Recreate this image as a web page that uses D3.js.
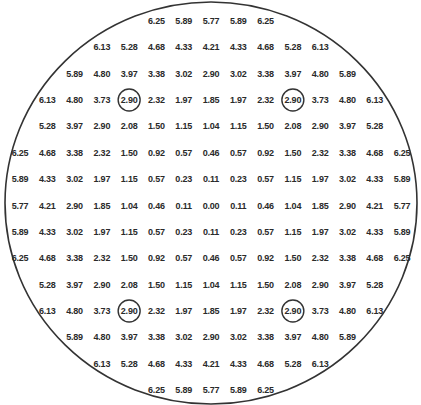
<!DOCTYPE html>
<html>
<head>
<meta charset="utf-8">
<script src="https://cdn.jsdelivr.net/npm/d3@7"></script>
<style>
  html, body { margin: 0; padding: 0; background: #fff; }
  svg { display: block; }
</style>
</head>
<body>
<svg id="chart" width="421" height="405"></svg>
<script>
// Grid rows, top to bottom (row index -7 .. 7)
const rowIndex = [-7, -6, -5, -4, -3, -2, -1, 0, 1, 2, 3, 4, 5, 6, 7];
// First column of each row (rows are centred on column 0)
const rowStartCol = [-2, -4, -5, -6, -6, -7, -7, -7, -7, -7, -6, -6, -5, -4, -2];
// Values shown in each row
const rowValues = [
  ["6.25", "5.89", "5.77", "5.89", "6.25"],
  ["6.13", "5.28", "4.68", "4.33", "4.21", "4.33", "4.68", "5.28", "6.13"],
  ["5.89", "4.80", "3.97", "3.38", "3.02", "2.90", "3.02", "3.38", "3.97", "4.80", "5.89"],
  ["6.13", "4.80", "3.73", "2.90", "2.32", "1.97", "1.85", "1.97", "2.32", "2.90", "3.73", "4.80", "6.13"],
  ["5.28", "3.97", "2.90", "2.08", "1.50", "1.15", "1.04", "1.15", "1.50", "2.08", "2.90", "3.97", "5.28"],
  ["6.25", "4.68", "3.38", "2.32", "1.50", "0.92", "0.57", "0.46", "0.57", "0.92", "1.50", "2.32", "3.38", "4.68", "6.25"],
  ["5.89", "4.33", "3.02", "1.97", "1.15", "0.57", "0.23", "0.11", "0.23", "0.57", "1.15", "1.97", "3.02", "4.33", "5.89"],
  ["5.77", "4.21", "2.90", "1.85", "1.04", "0.46", "0.11", "0.00", "0.11", "0.46", "1.04", "1.85", "2.90", "4.21", "5.77"],
  ["5.89", "4.33", "3.02", "1.97", "1.15", "0.57", "0.23", "0.11", "0.23", "0.57", "1.15", "1.97", "3.02", "4.33", "5.89"],
  ["6.25", "4.68", "3.38", "2.32", "1.50", "0.92", "0.57", "0.46", "0.57", "0.92", "1.50", "2.32", "3.38", "4.68", "6.25"],
  ["5.28", "3.97", "2.90", "2.08", "1.50", "1.15", "1.04", "1.15", "1.50", "2.08", "2.90", "3.97", "5.28"],
  ["6.13", "4.80", "3.73", "2.90", "2.32", "1.97", "1.85", "1.97", "2.32", "2.90", "3.73", "4.80", "6.13"],
  ["5.89", "4.80", "3.97", "3.38", "3.02", "2.90", "3.02", "3.38", "3.97", "4.80", "5.89"],
  ["6.13", "5.28", "4.68", "4.33", "4.21", "4.33", "4.68", "5.28", "6.13"],
  ["6.25", "5.89", "5.77", "5.89", "6.25"]
];
// Circled cells: [column, row]
const markedCells = [[-3, -4], [3, -4], [-3, 4], [3, 4]];

const svg = d3.select("#chart");
const x = d3.scaleLinear().domain([-7, 7]).range([20, 402]);
const y = d3.scaleLinear().domain([-7, 7]).range([21, 390]);

// Outer boundary
svg.append("ellipse")
  .attr("cx", x(0)).attr("cy", 203)
  .attr("rx", 206).attr("ry", 201)
  .attr("fill", "none")
  .attr("stroke", "#333")
  .attr("stroke-width", 1.6);

const cells = [];
rowValues.forEach((vals, i) => {
  vals.forEach((v, j) => {
    cells.push({ col: rowStartCol[i] + j, row: rowIndex[i], value: v });
  });
});

svg.append("g")
  .selectAll("text")
  .data(cells)
  .join("text")
  .attr("x", d => x(d.col))
  .attr("y", d => y(d.row))
  .attr("text-anchor", "middle")
  .attr("dominant-baseline", "central")
  .attr("font-family", "Liberation Sans, Arial, sans-serif")
  .attr("font-weight", "bold")
  .attr("font-size", 9)
  .attr("letter-spacing", -0.2)
  .attr("fill", "#2a2a2a")
  .text(d => d.value);

svg.append("g")
  .selectAll("circle")
  .data(markedCells)
  .join("circle")
  .attr("cx", d => x(d[0]))
  .attr("cy", d => y(d[1]))
  .attr("r", 11)
  .attr("fill", "none")
  .attr("stroke", "#333")
  .attr("stroke-width", 1.4);
</script>
</body>
</html>
